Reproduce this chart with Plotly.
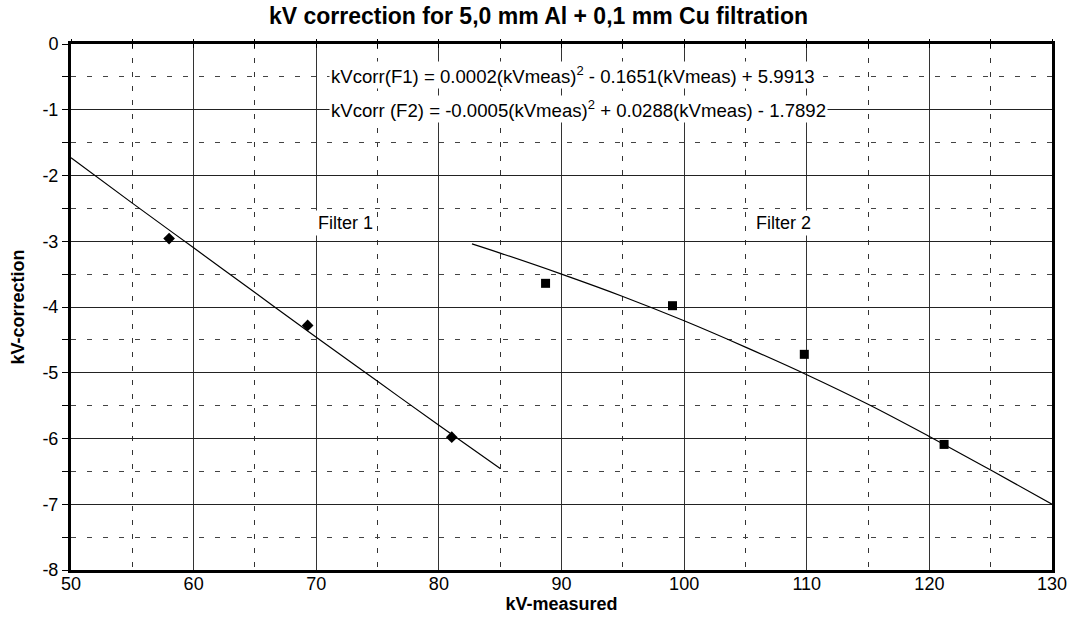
import plotly.graph_objects as go

# Measured points
f1_kv = [58.0, 69.3, 81.05]
f1_corr = [-2.96, -4.28, -5.98]
f2_kv = [88.7, 99.05, 109.8, 121.2]
f2_corr = [-3.64, -3.98, -4.72, -6.09]

# Trend curves
f1_curve_kv = [50, 55, 60, 65, 70, 75, 80, 85]
f1_curve_corr = [-1.73, -2.42, -3.10, -3.78, -4.46, -5.13, -5.80, -6.455]
f2_curve_kv = [82.7, 85, 90, 95, 100, 105, 110, 115, 120, 125, 130]
f2_curve_corr = [-3.04, -3.18, -3.5, -3.84, -4.21, -4.61, -5.03, -5.48, -5.97, -6.48, -7.0]

x_ticks = [50, 60, 70, 80, 90, 100, 110, 120, 130]
y_ticks = [0, -1, -2, -3, -4, -5, -6, -7, -8]
y_tick_labels = ["0", "-1", "-2", "-3", "-4", "-5", "-6", "-7", "-8"]

title = "kV correction for 5,0 mm Al + 0,1 mm Cu filtration"
eq1 = "kVcorr(F1) = 0.0002(kVmeas)<sup>2</sup> - 0.1651(kVmeas) + 5.9913"
eq2 = "kVcorr (F2) = -0.0005(kVmeas)<sup>2</sup> + 0.0288(kVmeas) - 1.7892"

FONT = "Liberation Sans, Arial, sans-serif"

fig = go.Figure()
fig.add_trace(go.Scatter(x=f1_curve_kv, y=f1_curve_corr, mode="lines",
                         line=dict(color="black", width=1.2, shape="spline"), showlegend=False))
fig.add_trace(go.Scatter(x=f2_curve_kv, y=f2_curve_corr, mode="lines",
                         line=dict(color="black", width=1.2, shape="spline"), showlegend=False))
fig.add_trace(go.Scatter(x=f1_kv, y=f1_corr, mode="markers",
                         marker=dict(symbol="diamond", size=9, color="black"), showlegend=False))
fig.add_trace(go.Scatter(x=f2_kv, y=f2_corr, mode="markers",
                         marker=dict(symbol="square", size=9, color="black"), showlegend=False))

ann_font = dict(family=FONT, size=18.6, color="black")
fig.add_annotation(x=71.0, y=-0.47, text=eq1, showarrow=False, xanchor="left",
                   bgcolor="white", font=ann_font, borderpad=1)
fig.add_annotation(x=71.0, y=-0.99, text=eq2, showarrow=False, xanchor="left",
                   bgcolor="white", font=ann_font, borderpad=1)
fig.add_annotation(x=72.4, y=-2.72, text="Filter 1", showarrow=False,
                   bgcolor="white", font=dict(family=FONT, size=18, color="black"), borderpad=2)
fig.add_annotation(x=108.1, y=-2.72, text="Filter 2", showarrow=False,
                   bgcolor="white", font=dict(family=FONT, size=18, color="black"), borderpad=2)

fig.update_layout(
    width=1077, height=634,
    margin=dict(l=71, r=25, t=44, b=64),
    paper_bgcolor="white", plot_bgcolor="white",
    font=dict(family=FONT, size=18, color="black"),
    title=dict(text="<b>" + title + "</b>", x=0.5, xanchor="center", y=0.975, yanchor="middle",
               font=dict(family=FONT, size=23, color="black")),
    xaxis=dict(range=[50, 130], tickvals=x_ticks, showgrid=True, gridcolor="#333333", gridwidth=1,
               zeroline=False, showline=True, linecolor="black", linewidth=3, mirror=True,
               ticks="", ticklen=0, ticklabelstandoff=-5, automargin=False,
               tickfont=dict(family=FONT, size=18),
               minor=dict(dtick=5, tick0=50, showgrid=True, gridcolor="#333333",
                          griddash="5px,9px", gridwidth=1),
               title=dict(text="<b>kV-measured</b>", font=dict(family=FONT, size=18), standoff=0)),
    yaxis=dict(range=[-8, 0], tickvals=y_ticks, ticktext=y_tick_labels,
               showgrid=True, gridcolor="#222222", gridwidth=1,
               zeroline=False, showline=True, linecolor="black", linewidth=3, mirror=True,
               ticks="outside", ticklen=6, tickcolor="black", automargin=False,
               tickfont=dict(family=FONT, size=18),
               minor=dict(dtick=0.5, ticks="outside", ticklen=6, tickcolor="black",
                          showgrid=True, gridcolor="#444444", griddash="5px,11px", gridwidth=1),
               title=dict(text="<b>kV-correction</b>", font=dict(family=FONT, size=18), standoff=14)),
    xaxis2=dict(range=[50, 130], overlaying="x", side="top", dtick=5, tick0=50,
                ticks="outside", ticklen=4, tickcolor="black", showticklabels=False,
                showgrid=False, zeroline=False, automargin=False),
    xaxis3=dict(range=[50, 130], overlaying="x", side="top", dtick=5, tick0=50,
                ticks="inside", ticklen=4, tickcolor="black", showticklabels=False,
                showgrid=False, zeroline=False, automargin=False),
)
# invisible traces to activate the top tick axes
fig.add_trace(go.Scatter(x=[50, 130], y=[0, 0], xaxis="x2", mode="markers",
                         marker=dict(opacity=0), hoverinfo="skip", showlegend=False))
fig.add_trace(go.Scatter(x=[50, 130], y=[0, 0], xaxis="x3", mode="markers",
                         marker=dict(opacity=0), hoverinfo="skip", showlegend=False))

fig.write_html("out.html", config={"displayModeBar": False},
               post_script="document.body.style.margin='0';")
